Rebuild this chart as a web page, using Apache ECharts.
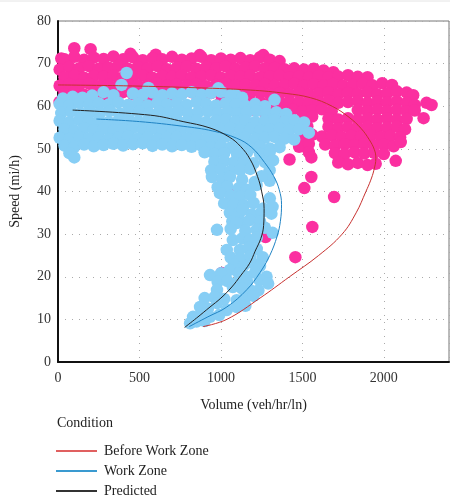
<!DOCTYPE html>
<html>
<head>
<meta charset="utf-8">
<script src="https://cdn.jsdelivr.net/npm/echarts@6/dist/echarts.min.js"></script>
<style>
html,body{margin:0;padding:0;background:#fff;}
#c{width:450px;height:501px;}
</style>
</head>
<body>
<div id="c"></div>
<script>
// Axis ticks
const xTicks = [0, 500, 1000, 1500, 2000];
const yTicks = [0, 10, 20, 30, 40, 50, 60, 70, 80];
const legendNames = ['Before Work Zone', 'Work Zone', 'Predicted'];

// Observations before work zone [volume, speed]
const beforePoints = [
  [100,73.6],[200,73.4],[445,72.3],[870,72.0],[1260,72.0],[600,72.1],[20,71.2],
  [40,71.0],[100,71.6],[160,70.9],[220,71.4],[280,71.1],[340,71.7],[400,71.0],[460,71.5],[520,70.8],[580,71.3],[640,71.0],[700,71.6],[760,70.9],[820,71.2],[880,71.6],[940,70.8],[1000,71.2],[1060,70.9],[1120,71.3],[1180,70.8],[1240,71.5],[1300,70.9],[1360,70.6],
  [10,68.6],[70,69.2],[130,68.9],[190,69.4],[250,68.8],[310,69.1],[370,69.5],[430,68.8],[490,69.2],[550,68.9],[610,69.4],[670,68.7],[730,69.1],[790,69.3],[850,68.8],[910,69.2],[970,68.9],[1030,69.3],[1090,68.8],[1150,69.1],[1210,69.4],[1270,68.9],[1330,69.0],[1390,68.7],[1450,68.9],[1510,68.6],[1570,68.8],[1630,68.4],[1690,68.0],
  [40,66.8],[100,67.2],[160,66.7],[220,67.1],[280,66.9],[340,67.3],[400,66.8],[460,67.0],[520,67.2],[580,66.7],[640,67.1],[700,66.9],[760,67.3],[820,66.8],[880,67.0],[940,67.2],[1000,66.7],[1060,67.1],[1120,66.9],[1180,67.2],[1240,66.8],[1300,67.0],[1360,67.2],[1420,66.8],[1480,67.0],[1540,66.7],[1600,67.1],[1660,66.8],[1720,67.0],[1780,67.3],[1840,66.9],[1900,66.8],
  [10,64.8],[70,65.2],[130,64.9],[190,65.3],[250,64.7],[310,65.1],[370,64.9],[430,65.2],[490,64.8],[550,65.0],[610,65.3],[670,64.8],[730,65.1],[790,64.9],[850,65.2],[910,64.7],[970,65.0],[1030,65.3],[1090,64.8],[1150,65.1],[1210,64.9],[1270,65.2],[1330,64.8],[1390,65.0],[1450,65.3],[1510,64.8],[1570,65.1],[1630,64.9],[1690,65.2],[1750,64.8],[1810,65.0],[1870,65.3],[1930,64.9],[1990,65.4],[2050,65.0],
  [40,62.9],[100,63.1],[160,62.7],[220,63.2],[280,62.8],[340,63.0],[400,63.3],[460,62.8],[520,63.1],[580,62.9],[640,63.2],[700,62.7],[760,63.0],[820,63.3],[880,62.8],[940,63.1],[1000,62.9],[1060,63.2],[1120,62.8],[1180,63.0],[1240,63.3],[1300,62.8],[1360,63.1],[1420,62.9],[1480,63.2],[1540,62.7],[1600,63.0],[1660,63.3],[1720,62.8],[1780,63.1],[1840,62.9],[1900,63.2],[1960,62.8],[2020,63.0],[2080,63.5],[2140,63.2],[2180,62.6],
  [10,61.0],[60,60.5],[520,60.8],[580,61.2],[1000,61.0],[1060,60.8],[1120,61.2],[1180,60.9],[1240,61.1],[1300,60.8],[1360,61.2],[1420,60.9],[1480,61.1],[1540,60.7],[1600,61.0],[1660,61.3],[1720,60.8],[1780,61.0],[1840,61.2],[1900,60.8],[1960,61.1],[2020,60.9],[2080,61.2],[2140,60.8],[2190,60.3],[2262,60.8],[2293,60.3],
  [1200,59.2],[1260,58.8],[1320,59.1],[1380,58.9],[1440,59.2],[1500,58.8],[1560,59.0],[1620,59.3],[1680,58.8],[1840,59.1],[1900,58.8],[1960,59.2],[2020,58.9],[2080,59.1],[2140,58.8],[2190,59.0],
  [1380,57.2],[1440,56.8],[1500,57.5],[1560,57.6],[1660,57.1],[1720,56.9],[1780,57.2],[1840,56.8],[1900,57.1],[1960,56.9],[2020,57.2],[2080,56.8],[2140,57.0],[2244,57.2],
  [1470,55.0],[1530,55.3],[1660,55.2],[1720,54.8],[1780,55.1],[1840,54.9],[1900,55.2],[1960,54.8],[2020,55.0],[2080,55.2],[2130,54.6],
  [1500,53.0],[1560,53.3],[1620,52.9],[1680,53.2],[1740,52.8],[1800,53.1],[1860,52.9],[1920,53.2],[1980,52.8],[2040,53.0],[2100,52.7],
  [1480,50.5],[1540,51.2],[1640,51.0],[1700,50.8],[1760,51.1],[1820,50.9],[1880,51.2],[1940,50.8],[2000,51.0],[2060,50.6],[2104,51.6],
  [1540,49.2],[1700,49.0],[1760,48.8],[1820,49.2],[1880,48.9],[1940,49.1],[2000,48.8],[2073,47.2],
  [1720,46.8],[1780,46.4],[1840,46.7],[1900,46.2],[1950,46.5],
  [1421,47.5],[1555,48.0],[1555,43.4],[1512,40.8],[1695,38.7],[1561,31.7],[1457,24.6],
  [1012,42.5],[1091,39.6],[1238,31.7],[1274,29.3],[1006,20.9]
];

// Observations in work zone [volume, speed]
const workZonePoints = [
  [421,67.8],[390,65.0],[555,64.3],[984,64.2],[1091,62.6],[1329,61.5],
  [30,61.8],[90,62.2],[150,62.0],[210,62.5],[280,63.3],[340,62.6],[460,63.0],[520,62.7],[580,63.2],[640,62.6],[700,63.0],[760,62.8],[820,63.3],[880,62.7],[940,63.1],[1000,63.4],[1060,62.6],[1130,62.0],
  [10,60.5],[70,60.2],[130,60.8],[190,60.3],[250,60.7],[310,60.4],[370,60.9],[430,60.3],[490,60.6],[550,60.2],[610,60.8],[670,60.4],[730,60.7],[790,60.3],[850,60.9],[910,60.5],[970,60.2],[1030,60.7],[1090,60.4],[1150,60.1],[1210,60.5],[1270,60.0],
  [20,58.4],[80,58.8],[140,58.3],[200,58.7],[260,58.5],[320,58.9],[380,58.3],[440,58.6],[500,58.8],[560,58.3],[620,58.7],[680,58.5],[740,58.9],[800,58.3],[860,58.6],[920,58.8],[980,58.4],[1040,58.7],[1100,58.3],[1160,58.6],[1220,58.9],[1280,58.4],[1340,58.6],[1400,58.2],
  [10,56.6],[70,56.3],[130,56.8],[190,56.4],[250,56.7],[310,56.3],[370,56.6],[430,56.9],[490,56.4],[550,56.7],[610,56.3],[670,56.6],[730,56.8],[790,56.4],[850,56.7],[910,56.3],[970,56.6],[1030,56.9],[1090,56.4],[1150,56.7],[1210,56.3],[1270,56.6],[1330,56.8],[1390,56.4],[1450,56.7],[1510,56.2],
  [40,54.6],[100,54.3],[160,54.8],[220,54.4],[280,54.7],[340,54.3],[400,54.6],[460,54.9],[520,54.4],[580,54.7],[640,54.3],[700,54.6],[760,54.8],[820,54.4],[880,54.7],[940,54.3],[1000,54.6],[1060,54.9],[1120,54.4],[1180,54.7],[1240,54.3],[1300,54.6],[1360,54.8],[1420,54.4],[1480,54.6],[1540,53.8],
  [10,52.6],[70,52.3],[130,52.8],[190,52.4],[250,52.7],[310,52.3],[370,52.6],[430,52.9],[490,52.4],[550,52.7],[610,52.3],[670,52.6],[730,52.8],[790,52.4],[850,52.7],[910,52.3],[970,52.6],[1030,52.9],[1090,52.4],[1150,52.7],[1210,52.3],[1270,52.6],[1330,52.8],[1390,52.4],[1450,52.2],
  [40,50.8],[100,50.5],[160,51.0],[220,50.6],[280,50.9],[340,51.2],[400,50.8],[460,51.1],[520,51.3],[580,50.7],[640,51.0],[700,50.6],[760,50.9],[820,50.5],[880,50.8],[940,50.4],[1000,50.7],[1060,50.3],[1120,50.6],[1180,50.2],[1240,50.5],[1300,50.1],[1360,50.4],
  [70,49.0],[100,48.0],[900,49.2],[960,48.8],[1020,49.0],[1100,48.6],[1160,49.2],[1240,48.8],[1300,49.3],
  [960,47.0],[1020,47.2],[1080,46.8],[1140,47.1],[1200,46.6],[1270,46.9],[1320,47.3],
  [940,45.0],[1000,45.2],[1060,44.8],[1120,45.1],[1180,45.3],[1299,45.0],
  [945,43.4],[1010,43.0],[1055,43.4],[1130,42.8],[1207,42.2],[1299,42.5],[1250,43.6],
  [980,41.0],[1040,41.2],[1110,40.8],[1158,40.4],[1219,41.5],
  [994,39.6],[1060,39.0],[1120,38.8],[1180,39.2],[1300,38.4],
  [1020,37.2],[1080,37.0],[1140,36.8],[1200,37.3],[1317,36.4],[1260,36.0],
  [1055,35.0],[1110,34.8],[1134,35.7],[1190,34.6],[1250,35.2],[1310,34.8],
  [1070,33.0],[1130,32.8],[1177,33.3],[1240,33.0],
  [976,31.0],[1097,32.6],[1060,31.2],[1150,30.8],[1219,31.0],[1317,30.3],[1270,31.5],
  [1073,28.6],[1130,29.0],[1177,28.6],[1220,29.2],
  [1036,26.3],[1116,26.3],[1170,26.8],[1220,26.5],
  [1060,24.5],[1120,24.2],[1180,24.8],[1256,24.6],
  [1080,22.8],[1195,23.2],[1140,22.6],[1240,22.5],
  [933,20.4],[1055,21.6],[1000,20.8],[1110,20.8],[1158,20.0],[1210,21.0],[1280,20.0],
  [980,18.8],[1040,19.0],[1100,18.6],[1160,18.9],[1238,19.2],[1290,18.4],
  [976,16.9],[1073,17.6],[1177,16.9],[1130,17.2],[1230,16.8],
  [900,15.0],[960,15.2],[1020,14.8],[1097,14.5],[1150,15.2],[1200,15.5],
  [976,13.8],[872,12.9],[1036,12.2],[1097,12.9],[1150,13.2],[920,12.5],
  [829,10.6],[933,10.6],[880,11.2],[990,11.0],
  [811,9.1],[850,9.5],[900,9.6]
];

// Fitted curves [volume, speed]
const beforeCurve = [
  [0,65.0],[400,64.8],[800,64.4],[1180,63.8],[1400,63.0],[1550,62.0],[1683,60.0],[1787,57.4],[1860,54.8],[1910,52.2],[1942,49.8],[1951,47.8],[1939,45.0],[1918,42.5],[1890,40.0],[1830,35.0],[1744,30.0],[1600,25.0],[1421,20.0],[1240,15.0],[1036,10.0],[890,8.3]
];
const workZoneCurve = [
  [236,57.0],[500,56.4],[768,55.3],[950,54.2],[1097,52.5],[1190,50.3],[1268,46.8],[1325,43.5],[1358,40.4],[1372,37.0],[1365,33.0],[1345,29.5],[1300,25.0],[1240,21.0],[1160,17.0],[1036,12.9],[920,10.6],[805,8.3]
];
const predictedCurve = [
  [90,59.1],[567,57.9],[768,56.4],[933,54.9],[1050,52.8],[1120,50.6],[1180,47.5],[1225,43.5],[1250,40.0],[1265,36.0],[1262,32.0],[1245,29.0],[1210,26.0],[1177,23.2],[1120,20.2],[1067,17.6],[1000,15.0],[933,12.9],[850,10.3],[777,8.1]
];

const FONT = '"Liberation Serif", "DejaVu Serif", serif';
const chart = echarts.init(document.getElementById('c'), null, {renderer: 'canvas'});

chart.setOption({
  animation: false,
  backgroundColor: '#fff',
  textStyle: {fontFamily: FONT},
  grid: {left: 57, top: 21, right: 1, bottom: 139, show: true, borderColor: '#777', borderWidth: 1, backgroundColor: 'transparent'},
  xAxis: {
    type: 'value', min: 0, max: 2400, interval: 500,
    name: 'Volume (veh/hr/ln)', nameLocation: 'middle', nameGap: 36,
    nameTextStyle: {fontFamily: FONT, fontSize: 14, color: '#222'},
    axisLine: {show: true, onZero: false, lineStyle: {color: '#111', width: 2}},
    axisTick: {show: false},
    axisLabel: {fontFamily: FONT, fontSize: 14, color: '#333', margin: 9, showMaxLabel: false,
      formatter: v => xTicks.indexOf(v) >= 0 ? String(v) : ''},
    splitLine: {show: true, lineStyle: {color: '#aaa', type: [1, 6], width: 1}}
  },
  yAxis: {
    type: 'value', min: 0, max: 80, interval: 10,
    name: 'Speed (mi/h)', nameLocation: 'middle', nameGap: 36, nameRotate: 90,
    nameTextStyle: {fontFamily: FONT, fontSize: 14, color: '#222'},
    axisLine: {show: true, onZero: false, lineStyle: {color: '#111', width: 2}},
    axisTick: {show: false},
    axisLabel: {fontFamily: FONT, fontSize: 14, color: '#333', margin: 7,
      formatter: v => yTicks.indexOf(v) >= 0 ? String(v) : ''},
    splitLine: {show: true, lineStyle: {color: '#aaa', type: [1, 6], width: 1}}
  },
  legend: {
    data: legendNames.map(n => ({name: n, icon: 'rect'})),
    orient: 'vertical', left: 56, top: 444, padding: 0,
    itemWidth: 41, itemHeight: 2, itemGap: 6,
    textStyle: {fontFamily: FONT, fontSize: 14, color: '#222', padding: [0, 0, 0, 2]},
    selectedMode: false
  },
  graphic: [
    {type: 'text', left: 57, top: 416, style: {text: 'Condition', font: '14px ' + FONT, fill: '#222'}},
    {type: 'line', shape: {x1: 0, y1: 1, x2: 450, y2: 1}, style: {stroke: '#e4e4e4', lineWidth: 1}}
  ],
  series: [
    {type: 'scatter', name: 'beforePts', data: beforePoints, symbolSize: 12.5, itemStyle: {color: '#FB2FA0', opacity: 1}, z: 2, silent: true},
    {type: 'scatter', name: 'wzPts', data: workZonePoints, symbolSize: 12.5, itemStyle: {color: '#87CEF5', opacity: 1}, z: 3, silent: true},
    {type: 'line', name: legendNames[0], data: beforeCurve, smooth: 0.4, showSymbol: false, lineStyle: {color: '#C8312F', width: 1}, itemStyle: {color: '#E06060'}, z: 5},
    {type: 'line', name: legendNames[1], data: workZoneCurve, smooth: 0.4, showSymbol: false, lineStyle: {color: '#1F83C4', width: 1}, itemStyle: {color: '#3A9AD0'}, z: 5},
    {type: 'line', name: legendNames[2], data: predictedCurve, smooth: 0.4, showSymbol: false, lineStyle: {color: '#222', width: 1}, itemStyle: {color: '#333'}, z: 6}
  ]
});
</script>
</body>
</html>
